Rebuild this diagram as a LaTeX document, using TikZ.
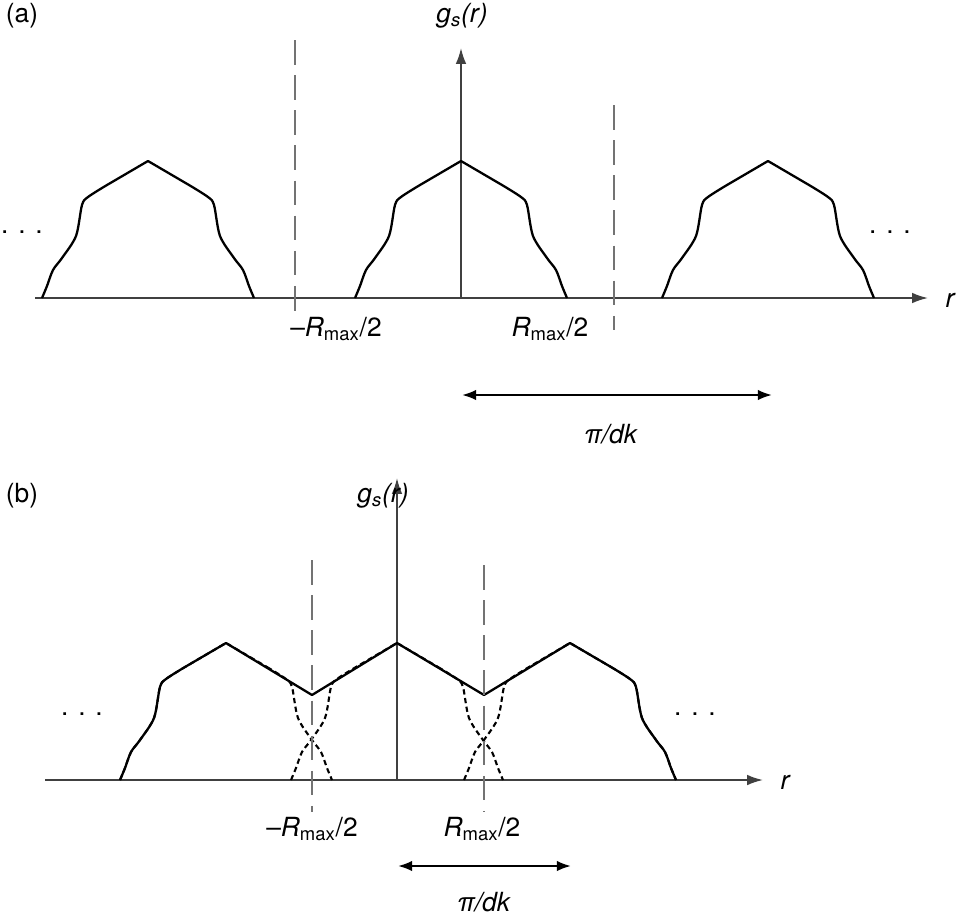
\documentclass[tikz,border=0pt]{standalone}
\usepackage{fontspec}
\setmainfont{TeX Gyre Heros}
\usetikzlibrary{arrows.meta}

\newcommand{\gsr}{\textit{g}\textsubscript{\textit{s}}\textit{(r)}}
\newcommand{\rmax}{\textit{R}\textsubscript{max}/2}

\begin{document}
\begin{tikzpicture}[x=0.02cm, y=-0.02cm]
    % Styles
    \tikzset{
        axis/.style = {line width=1pt, draw=black!75, -{Latex[length=9pt, width=6pt]}},
        curve/.style = {line width=1.3pt, line join=round},
        guide/.style = {line width=1pt, draw=black!55, dash pattern=on 14pt off 6pt},
        span/.style = {line width=1.3pt, {Latex[length=8pt, width=6pt]}-{Latex[length=8pt, width=6pt]}},
        lbl/.style = {font=\fontsize{15}{17}\selectfont, inner sep=1pt},
        pulse/.pic = {
            \draw[#1] plot[smooth, tension=0.5] coordinates {(-106,0) (-101,-12) (-95,-28) (-86,-40) (-72,-62) (-66,-93) (-60,-101) (-41,-113)}
                -- (0,-137) -- (41,-113)
                plot[smooth, tension=0.5] coordinates {(41,-113) (60,-101) (66,-93) (72,-62) (86,-40) (95,-28) (101,-12) (106,0)};
        }
    }
    \useasboundingbox (0,0) rectangle (958,921);

    % (a) axes
    \coordinate (ax0) at (35,298);
    \coordinate (ax1) at (928,298);
    \coordinate (ay0) at (461,298);
    \coordinate (ay1) at (461,48);
    \draw[axis] (ax0) -- (ax1);
    \draw[axis] (ay0) -- (ay1);
    \node[lbl] (tagA) at (22,16) {(a)};
    \node[lbl] (gA) at (462,16) {\gsr};
    \node[lbl] (rA) at (950,300) {\itshape r};
    \node[lbl] (dotsAl) at (22,232) {. . .};
    \node[lbl] (dotsAr) at (890,232) {. . .};

    % (a) pulses
    \foreach \cx in {148,461,768}
        \pic at (\cx,298) {pulse=curve};

    % (a) guides
    \coordinate (gAl0) at (295,40);  \coordinate (gAl1) at (295,312);
    \coordinate (gAr0) at (614,105); \coordinate (gAr1) at (614,330);
    \draw[guide] (gAl0) -- (gAl1);
    \draw[guide] (gAr0) -- (gAr1);
    \node[lbl] (mA) at (336,329) {–\rmax};
    \node[lbl] (pA) at (550,329) {\rmax};

    % (a) span
    \coordinate (sA0) at (462,395);
    \coordinate (sA1) at (772,395);
    \draw[span] (sA0) -- (sA1);
    \node[lbl] (kA) at (611,434) {\textit{π/dk}};

    % (b) axes
    \coordinate (bx0) at (45,780);
    \coordinate (bx1) at (763,780);
    \coordinate (by0) at (397,780);
    \coordinate (by1) at (397,478);
    \draw[axis] (bx0) -- (bx1);
    \draw[axis] (by0) -- (by1);
    \node[lbl] (tagB) at (22,496) {(b)};
    \node[lbl] (gB) at (383,496) {\gsr};
    \node[lbl] (rB) at (785,782) {\itshape r};
    \node[lbl] (dotsBl) at (82,714) {. . .};
    \node[lbl] (dotsBr) at (695,714) {. . .};

    % (b) overlapping pulses
    \foreach \cx in {226,397,570}
        \pic at (\cx,780) {pulse={line width=1.2pt, densely dashed}};
    \draw[curve] plot[smooth, tension=0.5] coordinates {(120,780) (125,768) (131,752) (140,740) (154,718) (160,687) (166,679) (185,667)}
        -- (226,643) -- (312,695) -- (397,643) -- (484,695) -- (570,643) -- (611,667)
        plot[smooth, tension=0.5] coordinates {(611,667) (630,679) (636,687) (642,718) (656,740) (665,752) (671,768) (676,780)};

    % (b) guides
    \coordinate (gBl0) at (312,560); \coordinate (gBl1) at (312,812);
    \coordinate (gBr0) at (484,565); \coordinate (gBr1) at (484,812);
    \draw[guide] (gBl0) -- (gBl1);
    \draw[guide] (gBr0) -- (gBr1);
    \node[lbl] (mB) at (312,829) {–\rmax};
    \node[lbl] (pB) at (482,829) {\rmax};

    % (b) span
    \coordinate (sB0) at (398,866);
    \coordinate (sB1) at (571,866);
    \draw[span] (sB0) -- (sB1);
    \node[lbl] (kB) at (484,902) {\textit{π/dk}};
\end{tikzpicture}
\end{document}
